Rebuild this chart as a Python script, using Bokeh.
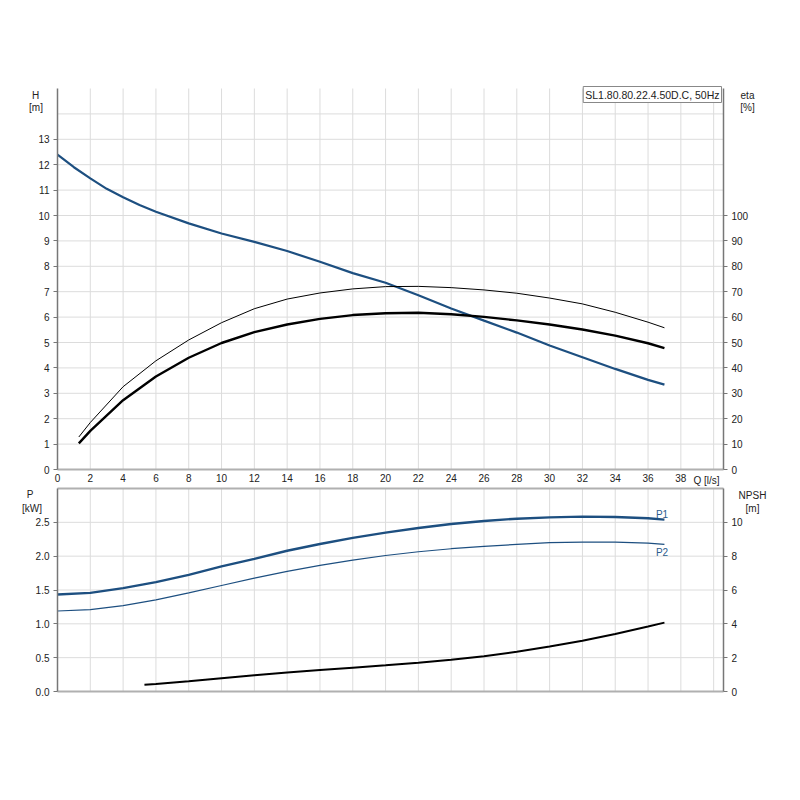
from bokeh.plotting import figure
from bokeh.models import Range1d, LinearAxis, FixedTicker, Label, PrintfTickFormatter
from bokeh.embed import file_html
from bokeh.resources import INLINE

# ---------------- data ----------------
title_text = "SL1.80.80.22.4.50D.C, 50Hz"
x_ticks = list(range(0, 40, 2))
h_ticks = list(range(0, 14))
eta_ticks = list(range(0, 101, 10))
p_ticks = [0.0, 0.5, 1.0, 1.5, 2.0, 2.5]
npsh_ticks = [0, 2, 4, 6, 8, 10]

q_h = [0, 1, 2, 3, 4, 5, 6, 8, 10, 12, 14, 16, 18, 20, 22, 24, 26, 28, 30, 32, 34, 36, 37]
head = [12.40, 11.90, 11.46, 11.05, 10.72, 10.41, 10.15, 9.69, 9.29, 8.96, 8.60, 8.18,
        7.73, 7.35, 6.86, 6.34, 5.86, 5.39, 4.88, 4.42, 3.96, 3.53, 3.34]

q_eta = [1.3, 2, 4, 6, 8, 10, 12, 14, 16, 18, 20, 22, 24, 26, 28, 30, 32, 34, 36, 37]
eta_thin = [12.8, 18.5, 32.6, 42.8, 51.0, 57.8, 63.3, 67.1, 69.5, 71.1, 72.0, 72.1,
            71.6, 70.7, 69.4, 67.5, 65.2, 61.9, 58.0, 55.8]
eta_thick = [10.3, 15.2, 27.3, 36.6, 44.0, 49.8, 54.1, 57.1, 59.3, 60.8, 61.5, 61.7,
             61.1, 60.1, 58.7, 57.1, 55.1, 52.7, 49.7, 47.8]

q_p = [0, 2, 4, 6, 8, 10, 12, 14, 16, 18, 20, 22, 24, 26, 28, 30, 32, 34, 36, 37]
p1_kw = [1.433, 1.457, 1.527, 1.616, 1.724, 1.848, 1.961, 2.080, 2.180, 2.270, 2.347,
         2.416, 2.475, 2.520, 2.554, 2.574, 2.584, 2.579, 2.560, 2.540]
p2_kw = [1.190, 1.210, 1.270, 1.354, 1.457, 1.566, 1.675, 1.774, 1.863, 1.942, 2.010,
         2.065, 2.110, 2.144, 2.174, 2.199, 2.208, 2.208, 2.194, 2.174]

q_npsh = [5.3, 6, 8, 10, 12, 14, 16, 18, 20, 22, 24, 26, 28, 30, 32, 34, 36, 37]
npsh = [0.40, 0.44, 0.61, 0.79, 0.96, 1.12, 1.27, 1.41, 1.55, 1.70, 1.87, 2.09,
        2.35, 2.66, 3.00, 3.40, 3.84, 4.07]

# ---------------- geometry / styling ----------------
FONT = "Liberation Sans"
BLUE = "#1d4f80"
LBL_BLUE = "#2b5b8c"
GRID = "#dcdcdc"
AX = "#777777"
AX_LIGHT = "#b0b0b0"
TXT = "#222222"

Q_MAX = 40.6
H_MAX = 15.0
P_MAX = 3.0
ETA_K = 10.0      # eta [%] per H [m]
NPSH_K = 4.0      # NPSH [m] per P [kW]

W, H = 790, 720
X0, X1 = 57, 723           # plot areas, canvas px
Y1_TOP, Y1_BOT = 88, 469   # H / eta chart
Y2_TOP, Y2_BOT = 488, 691  # P / NPSH chart


def qx(px):
    return (px - X0) * Q_MAX / (X1 - X0)


def hy(py):
    return (Y1_BOT - py) * H_MAX / (Y1_BOT - Y1_TOP)


def py2(py):
    return (Y2_BOT - py) * P_MAX / (Y2_BOT - Y2_TOP)


def style_axis(ax, ticks, color=AX, width=1.5, tick_out=4):
    ax.ticker = FixedTicker(ticks=ticks)
    ax.axis_line_color = color
    ax.axis_line_width = width
    ax.major_tick_line_color = color
    ax.major_tick_out = tick_out
    ax.major_tick_in = 0
    ax.minor_tick_line_color = None
    ax.major_label_text_font = FONT
    ax.major_label_text_font_size = "10px"
    ax.major_label_text_color = TXT
    ax.major_label_standoff = 4


def txt(p, x, y, s, align="center", color=TXT, size="10px", **kw):
    p.add_layout(Label(x=x, y=y, text=s, text_align=align, text_baseline="middle",
                       text_font=FONT, text_font_size=size, text_color=color, **kw))


def gridlines(p, xs, ylo, yhi, ys, xlo, xhi, rng="default"):
    p.segment(x0=xs, y0=[ylo] * len(xs), x1=xs, y1=[yhi] * len(xs),
              line_color=GRID, line_width=1, level="underlay", y_range_name=rng)
    p.segment(x0=[xlo] * len(ys), y0=ys, x1=[xhi] * len(ys), y1=ys,
              line_color=GRID, line_width=1, level="underlay", y_range_name=rng)


p = figure(frame_width=W, frame_height=H,
           x_range=Range1d(qx(0), qx(W)), y_range=Range1d(hy(H), hy(0)),
           x_axis_type=None, y_axis_type=None,
           output_backend="svg", toolbar_location=None,
           min_border_left=0, min_border_right=0, min_border_top=0, min_border_bottom=0)
p.outline_line_color = None
p.background_fill_color = "white"
p.border_fill_color = "white"
p.extra_y_ranges = {
    "eta": Range1d(hy(H) * ETA_K, hy(0) * ETA_K),
    "p": Range1d(py2(H), py2(0)),
    "npsh": Range1d(py2(H) * NPSH_K, py2(0) * NPSH_K),
}

# ---------------- top chart: H and eta ----------------
gridlines(p, list(range(2, 41, 2)), 0, H_MAX, list(range(1, 15)), 0, Q_MAX)

ax_q = LinearAxis(fixed_location=0, bounds=(0, Q_MAX))
style_axis(ax_q, x_ticks, color=AX_LIGHT, width=2, tick_out=0)
p.add_layout(ax_q, "below")

ax_h = LinearAxis(fixed_location=0, bounds=(0, H_MAX))
style_axis(ax_h, h_ticks)
p.add_layout(ax_h, "left")

ax_eta = LinearAxis(y_range_name="eta", fixed_location=Q_MAX, bounds=(0, H_MAX * ETA_K))
style_axis(ax_eta, eta_ticks)
p.add_layout(ax_eta, "right")

p.line(q_h, head, line_color=BLUE, line_width=2.2)
p.line(q_eta, eta_thin, line_color="black", line_width=1, y_range_name="eta")
p.line(q_eta, eta_thick, line_color="black", line_width=2.4, y_range_name="eta")

p.add_layout(Label(x=qx(721), y=hy(94), text=title_text, text_align="right",
                   text_baseline="middle", text_font=FONT, text_font_size="10.5px",
                   text_color=TXT, border_line_color="#888888", border_line_width=1,
                   background_fill_color="white", padding=2))
for (px, py, s) in [(35, 95, "H"), (35.5, 107, "[m]"), (747, 95, "eta"), (747, 107, "[%]"),
                    (706, 479.5, "Q [l/s]")]:
    txt(p, qx(px), hy(py), s)

# ---------------- bottom chart: P and NPSH ----------------
gridlines(p, list(range(2, 41, 2)), 0, P_MAX, [0.5, 1.0, 1.5, 2.0, 2.5], 0, Q_MAX, rng="p")

ax_qb = LinearAxis(y_range_name="p", fixed_location=0, bounds=(0, Q_MAX))
style_axis(ax_qb, [], color=AX_LIGHT, width=2, tick_out=0)
p.add_layout(ax_qb, "below")

ax_qt = LinearAxis(y_range_name="p", fixed_location=P_MAX, bounds=(0, Q_MAX))
style_axis(ax_qt, [], color=AX_LIGHT, width=2, tick_out=0)
p.add_layout(ax_qt, "above")

ax_p = LinearAxis(y_range_name="p", fixed_location=0, bounds=(0, P_MAX))
style_axis(ax_p, p_ticks)
ax_p.formatter = PrintfTickFormatter(format="%.1f")
p.add_layout(ax_p, "left")

ax_npsh = LinearAxis(y_range_name="npsh", fixed_location=Q_MAX, bounds=(0, P_MAX * NPSH_K))
style_axis(ax_npsh, npsh_ticks)
p.add_layout(ax_npsh, "right")

p.line(q_p, p1_kw, line_color=BLUE, line_width=2.4, y_range_name="p")
p.line(q_p, p2_kw, line_color=BLUE, line_width=1.2, y_range_name="p")
p.line(q_npsh, npsh, line_color="black", line_width=2, y_range_name="npsh")

for (px, py, s, c) in [(29.5, 494, "P", TXT), (31.5, 507.5, "[kW]", TXT),
                       (752, 495, "NPSH", TXT), (752, 507.5, "[m]", TXT),
                       (661.5, 513.5, "P1", LBL_BLUE), (661.5, 552, "P2", LBL_BLUE)]:
    txt(p, qx(px), hy(py), s, color=c)

open("out.html", "w").write(file_html(p, INLINE))
